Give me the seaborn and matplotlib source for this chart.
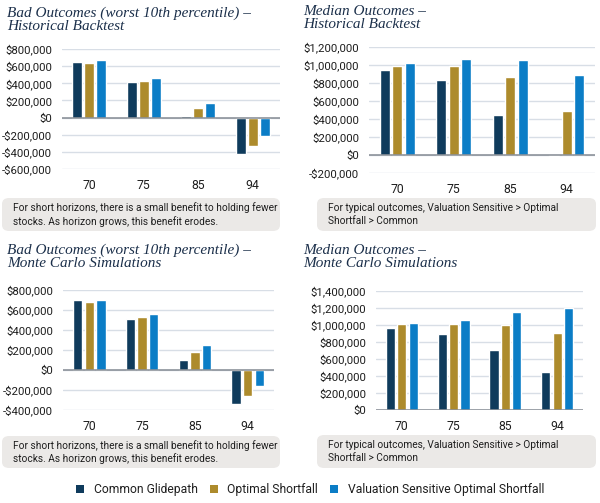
import matplotlib
matplotlib.use("Agg")
import matplotlib.pyplot as plt
import seaborn as sns
import pandas as pd
from matplotlib.patches import FancyBboxPatch, Patch
from matplotlib.ticker import FuncFormatter

sns.set_theme(style="white")
SANS = ['Roboto', 'DejaVu Sans']
plt.rcParams['font.family'] = SANS

ages = ["70", "75", "85", "94"]
series = ["Common Glidepath", "Optimal Shortfall", "Valuation Sensitive Optimal Shortfall"]
colors = ["#0f3b5c", "#ad8b2c", "#0b7dc6"]

hist_bad_common = [645000, 410000, 15000, -429000]
hist_bad_optimal = [638000, 425000, 108000, -328000]
hist_bad_vs = [668000, 456000, 166000, -220000]

hist_med_common = [942000, 828000, 442000, -15000]
hist_med_optimal = [990000, 990000, 865000, 490000]
hist_med_vs = [1019000, 1064000, 1053000, 891000]

mc_bad_common = [703000, 513000, 100000, -343000]
mc_bad_optimal = [680000, 530000, 177000, -260000]
mc_bad_vs = [703000, 563000, 247000, -160000]

mc_med_common = [962000, 896000, 708000, 442000]
mc_med_optimal = [1008000, 1010000, 1003000, 908000]
mc_med_vs = [1025000, 1062000, 1155000, 1205000]

titles = ["Bad Outcomes (worst 10th percentile) –\nHistorical Backtest",
          "Median Outcomes –\nHistorical Backtest",
          "Bad Outcomes (worst 10th percentile) –\nMonte Carlo Simulations",
          "Median Outcomes –\nMonte Carlo Simulations"]
notes = ["For short horizons, there is a small benefit to holding fewer\nstocks. As horizon grows, this benefit erodes.",
         "For typical outcomes, Valuation Sensitive > Optimal\nShortfall > Common",
         "For short horizons, there is a small benefit to holding fewer\nstocks. As horizon grows, this benefit erodes.",
         "For typical outcomes, Valuation Sensitive > Optimal\nShortfall > Common"]

panels = [
    (hist_bad_common, hist_bad_optimal, hist_bad_vs, -600000, 800000),
    (hist_med_common, hist_med_optimal, hist_med_vs, -200000, 1200000),
    (mc_bad_common, mc_bad_optimal, mc_bad_vs, -400000, 800000),
    (mc_med_common, mc_med_optimal, mc_med_vs, 0, 1400000),
]

W, H = 600, 503
fig = plt.figure(figsize=(6.0, 5.03), dpi=100)

# pixel boxes: (x0, x1, ytop, ybottom)
ax_px = [(62, 280, 49, 169), (369, 595, 47, 173), (63, 274, 290, 410), (376, 583, 291, 410)]
title_px = [(7, 7), (303, 5), (7, 244), (303, 244)]
box_px = [(2, 280, 198, 231), (317, 596, 198, 231), (2, 280, 436, 468), (317, 596, 435, 468)]

def money(v, pos):
    if v < 0:
        return "-${:,.0f}".format(-v)
    return "${:,.0f}".format(v)

for i, (c, o, v, lo, hi) in enumerate(panels):
    x0, x1, yt, yb = ax_px[i]
    ax = fig.add_axes([x0 / W, 1 - yb / H, (x1 - x0) / W, (yb - yt) / H])
    df = pd.DataFrame({
        "age": ages * 3,
        "series": [series[0]] * 4 + [series[1]] * 4 + [series[2]] * 4,
        "value": list(c) + list(o) + list(v),
    })
    sns.barplot(data=df, x="age", y="value", hue="series", order=ages, hue_order=series,
                palette=colors, width=0.66, gap=0.2, legend=False, ax=ax, saturation=1)
    ax.set_xlim(-0.5, 3.5)
    ax.set_ylim(lo, hi)
    ax.set_yticks(list(range(lo, hi + 1, 200000)))
    ax.yaxis.set_major_formatter(FuncFormatter(money))
    ax.set_axisbelow(True)
    ax.yaxis.grid(True, color="#d8dee6", linewidth=1.0)
    ax.xaxis.grid(False)
    ax.axhline(0, color="#858b93", linewidth=1.1, zorder=3)
    for s in ax.spines.values():
        s.set_visible(False)
    ax.set_xlabel("")
    ax.set_ylabel("")
    ax.tick_params(axis="both", length=0, colors="#1e1e1e")
    ax.tick_params(axis="y", pad=7, labelsize=8.2)
    ax.tick_params(axis="x", pad=7, labelsize=8.8)
    # title
    tx, ty = title_px[i]
    fig.text(tx / W, 1 - ty / H, titles[i], ha="left", va="top",
             family=["Liberation Serif", "DejaVu Serif"], style="italic",
             fontsize=11, color="#1b2f4a", linespacing=1.0)
    # note box
    bx0, bx1, byt, byb = box_px[i]
    patch = FancyBboxPatch((bx0 / W, 1 - byb / H), (bx1 - bx0) / W, (byb - byt) / H,
                           boxstyle="round,pad=0,rounding_size=0.012",
                           transform=fig.transFigure, facecolor="#ebe9e7",
                           edgecolor="none", zorder=0)
    fig.add_artist(patch)
    fig.text((bx0 + 11) / W, 1 - ((byt + byb) / 2) / H, notes[i], ha="left", va="center",
             family=SANS, fontsize=7.3,
             color="#1e1e1e", linespacing=1.3)

handles = [Patch(facecolor=col, edgecolor="none") for col in colors]
fig.legend(handles, series, loc="center", bbox_to_anchor=(310 / W, 1 - 490 / H), ncol=3,
           frameon=False, fontsize=8.7, handlelength=0.66, handleheight=0.66,
           handletextpad=0.8, columnspacing=1.0, labelcolor="#1e1e1e")

fig.savefig("out.png", dpi=100)
